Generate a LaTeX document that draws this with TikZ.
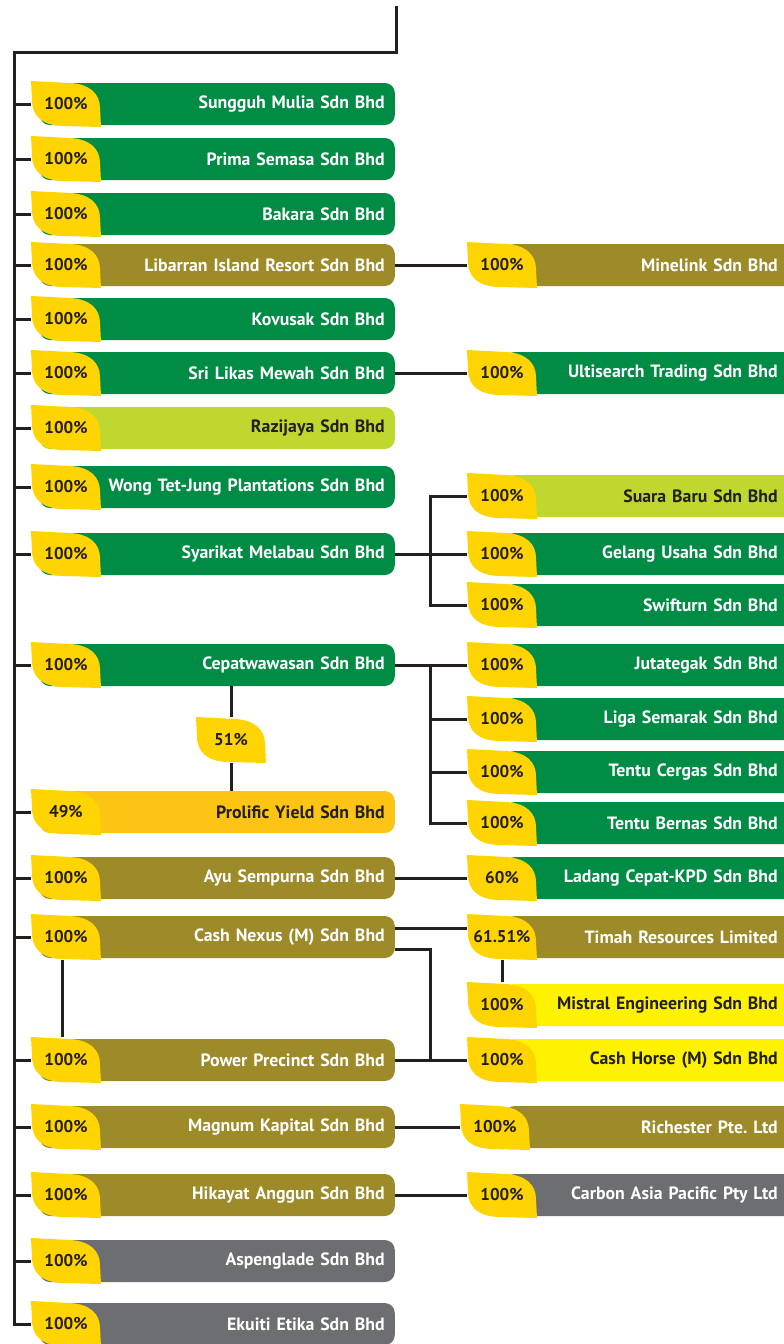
\documentclass[tikz,border=0pt]{standalone}
\usepackage{fontspec}
\setmainfont{PT Sans}
\usepackage{tikz}
\usetikzlibrary{positioning}
\usepackage{xcolor}

\definecolor{cgreen}{HTML}{008C45}
\definecolor{colive}{HTML}{9D8A29}
\definecolor{clime}{HTML}{C0D730}
\definecolor{camber}{HTML}{FDC414}
\definecolor{cyellow}{HTML}{FFF200}
\definecolor{cgray}{HTML}{6D6E71}
\definecolor{leafyellow}{HTML}{FFD400}
\definecolor{ink}{HTML}{231F20}

% yellow leaf with its percentage
\newcommand{\leaf}[3]{%
  \fill[leafyellow, shift={(#2)}] (-35,-23) -- (4,-21)
    .. controls (24,-20) and (34,-10) .. (34,4) -- (35,23) -- (-4,22)
    .. controls (-24,21) and (-34,12) .. (-34,-4) -- cycle;
  \node[pct] (#1) at (#2) {#3};
}

\begin{document}
\frenchspacing
\begin{tikzpicture}[
      x=1pt, y=-1pt,
      co/.style={anchor=east, minimum height=42pt, rounded corners=10pt,
          inner ysep=0pt, align=right,
          font=\fontsize{17.8}{19}\selectfont\bfseries},
      lft/.style={co, inner xsep=10pt, text width=335pt},
      rgt/.style={co, inner xsep=16pt, text width=257pt},
      pct/.style={minimum width=70pt, minimum height=46pt, inner sep=0pt,
          text=ink, font=\fontsize{17}{18}\selectfont\bfseries},
      link/.style={draw=ink, line width=3pt},
    ]
    \useasboundingbox (0,0) rectangle (784,1344);

    % Left column
    \foreach \nm/\y/\fc/\tc/\pc/\txt in {
      sungguh/104/cgreen/white/100/Sungguh Mulia Sdn Bhd,
      prima/159/cgreen/white/100/Prima Semasa Sdn Bhd,
      bakara/214/cgreen/white/100/Bakara Sdn Bhd,
      libarran/265/colive/white/100/Libarran Island Resort Sdn Bhd,
      kovusak/319/cgreen/white/100/Kovusak Sdn Bhd,
      likas/373/cgreen/white/100/Sri Likas Mewah Sdn Bhd,
      razijaya/428/clime/ink/100/Razijaya Sdn Bhd,
      wong/487/cgreen/white/100/Wong Tet-Jung Plantations Sdn Bhd,
      melabau/554/cgreen/white/100/Syarikat Melabau Sdn Bhd,
      cepat/665/cgreen/white/100/Cepatwawasan Sdn Bhd,
      prolific/812/camber/ink/49/Prolific Yield Sdn Bhd,
      ayu/878/colive/white/100/Ayu Sempurna Sdn Bhd,
      nexus/937/colive/white/100/Cash Nexus (M) Sdn Bhd,
      power/1060/colive/white/100/Power Precinct Sdn Bhd,
      magnum/1127/colive/white/100/Magnum Kapital Sdn Bhd,
      hikayat/1195/colive/white/100/Hikayat Anggun Sdn Bhd,
      aspen/1261/cgray/white/100/Aspenglade Sdn Bhd,
      ekuiti/1324/cgray/white/100/Ekuiti Etika Sdn Bhd}{
      \node[lft, fill=\fc, text=\tc] (\nm) at (395,\y) {\txt};
      \leaf{p-\nm}{66,\y}{\pc\%}
      }

    % Right column
    \foreach \nm/\y/\lx/\fc/\tc/\pc/\txt in {
      minelink/265/502/colive/white/100/Minelink Sdn Bhd,
      ultisearch/373/502/cgreen/white/100/Ultisearch Trading Sdn Bhd,
      suara/496/502/clime/ink/100/Suara Baru Sdn Bhd,
      gelang/554/502/cgreen/white/100/Gelang Usaha Sdn Bhd,
      swifturn/605/502/cgreen/white/100/Swifturn Sdn Bhd,
      jutategak/665/502/cgreen/white/100/Jutategak Sdn Bhd,
      liga/719/502/cgreen/white/100/Liga Semarak Sdn Bhd,
      cergas/772/502/cgreen/white/100/Tentu Cergas Sdn Bhd,
      bernas/823/502/cgreen/white/100/Tentu Bernas Sdn Bhd,
      ladang/878/502/cgreen/white/60/Ladang Cepat-KPD Sdn Bhd,
      timah/937/502/colive/white/61.51/Timah Resources Limited,
      mistral/1005/502/cyellow/ink/100/Mistral Engineering Sdn Bhd,
      horse/1060/502/cyellow/ink/100/Cash Horse (M) Sdn Bhd,
      richester/1127/495/colive/white/100/Richester Pte. Ltd,
      carbon/1195/502/cgray/white/100/Carbon Asia Pacific Pty Ltd}{
      \node[rgt, fill=\fc, text=\tc] (\nm) at (794,\y) {\txt};
      \leaf{p-\nm}{\lx,\y}{\pc\%}
      }

    % 51% leaf between Cepatwawasan and Prolific Yield
    \leaf{p-half}{231,740}{51\%}

    % Trunk and branches
    \coordinate (top) at (396,6);
    \coordinate (corner) at (14,52);
    \coordinate (fork) at (430,0);
    \draw[link] (top) |- (corner) |- (p-ekuiti.west);
    \foreach \nm in {sungguh,prima,bakara,libarran,kovusak,likas,razijaya,
        wong,melabau,cepat,prolific,ayu,nexus,power,magnum,hikayat,aspen}
      \draw[link] (corner |- p-\nm.west) -- (p-\nm.west);

    % Links to the right column
    \draw[link] (libarran.east) -- (p-minelink.west);
    \draw[link] (likas.east) -- (p-ultisearch.west);
    \draw[link] (melabau.east) -- (p-gelang.west);
    \draw[link] (p-suara.west) -| (fork |- p-swifturn.west) -- (p-swifturn.west);
    \draw[link] (cepat.east) -- (p-jutategak.west);
    \draw[link] (fork |- p-jutategak.west) |- (p-bernas.west);
    \foreach \nm in {liga,cergas}
      \draw[link] (fork |- p-\nm.west) -- (p-\nm.west);
    \draw[link] (cepat.south -| p-half.north) -- (p-half.north);
    \draw[link] (p-half.south) -- (p-half.south |- prolific.north);
    \draw[link] (ayu.east) -- (p-ladang.west);
    \draw[link] ([yshift=9pt]nexus.east) -- ([yshift=9pt]p-timah.west);
    \draw[link] ([yshift=-12pt]nexus.east) -| (fork |- power.east);
    \draw[link] (power.east) -- (p-horse.west);
    \draw[link] ([xshift=-4pt]p-nexus.south) -- ([xshift=-4pt]p-power.north);
    \draw[link] (p-timah.south) -- (p-mistral.north);
    \draw[link] (magnum.east) -- (p-richester.west);
    \draw[link] (hikayat.east) -- (p-carbon.west);
  \end{tikzpicture}
\end{document}
